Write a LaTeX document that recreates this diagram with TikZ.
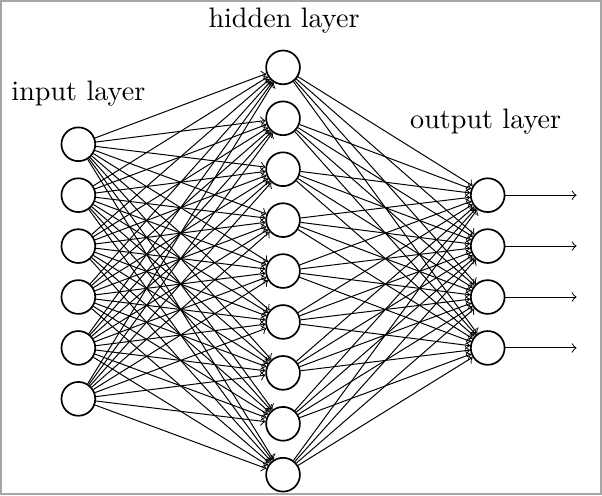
\documentclass[tikz,border=0pt]{standalone}
\usepackage{tikz}
\usetikzlibrary{arrows}
\tikzset{%
  synapse/.style={->, shorten >=0pt, line width=0.35pt},
  neuron/.style={circle, draw=black, line width=0.6pt, minimum size=12pt, inner sep=0pt},
  layertitle/.style={anchor=base}
}

\begin{document}
\begin{tikzpicture}[x=0.3547pt, y=-0.3547pt]
  \draw [gray!70, line width=0.7pt] (0.5,0.5) rectangle (601.5,494.5);
  \useasboundingbox (0,0) rectangle (602,495);
  % layers
  \foreach \i in {1,...,6}
    \node[neuron] (I-\i) at (78, {144+51*(\i-1)}) {};
  \foreach \i in {1,...,9}
    \node[neuron] (H-\i) at (283, {67+51*(\i-1)}) {};
  \foreach \i in {1,...,4} {
    \node[neuron] (O-\i) at (488, {195+51*(\i-1)}) {};
    \coordinate (Y-\i) at (577, {195+51*(\i-1)});
  }
  % connections
  \foreach \i in {1,...,6}
    \foreach \j in {1,...,9}
      \draw [synapse] (I-\i) -- (H-\j);
  \foreach \i in {1,...,9}
    \foreach \j in {1,...,4}
      \draw [synapse] (H-\i) -- (O-\j);
  \foreach \i in {1,...,4}
    \draw [synapse] (O-\i) -- (Y-\i);
  % titles
  \node[layertitle] (tin) at (78, 100) {input layer};
  \node[layertitle] (thid) at (284, 27) {hidden layer};
  \node[layertitle] (tout) at (486, 128) {output layer};
\end{tikzpicture}
\end{document}
